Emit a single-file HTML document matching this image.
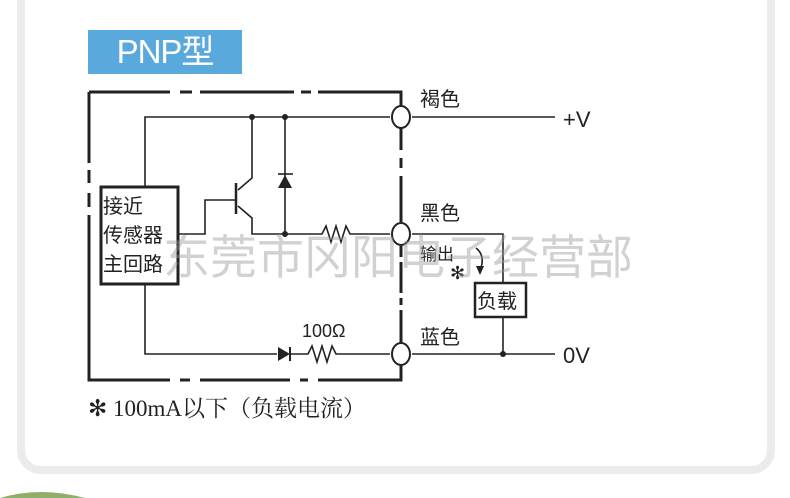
<!DOCTYPE html>
<html><head><meta charset="utf-8"><style>
body{margin:0;width:790px;height:498px;background:#fff;overflow:hidden;position:relative;font-family:"Liberation Sans","Noto Sans CJK SC",sans-serif}
.panel{position:absolute;left:17px;top:-30px;width:742px;height:488px;border:8px solid #ebebeb;border-radius:24px;background:#fff}
.title{position:absolute;left:88px;top:30px;width:154px;height:44px;background:#5aa9dc;color:#fff;font-size:33px;line-height:44px;text-align:center;letter-spacing:-1px}
</style></head><body>
<div class="panel"></div>
<div class="title">PNP型</div>
<svg width="790" height="498" style="position:absolute;left:0;top:0;overflow:hidden" font-family="Liberation Sans, Noto Sans CJK SC, sans-serif">
<g stroke="#222" stroke-width="3" fill="none">
<path d="M89 92H170M180 92H192M200 92H294M301 92H311M318 92H401V106"/>
<path d="M89 92V163M89 170V183M89 193V207M89 215V380H170M180 380H190M200 380H290M300 380H308M318 380H401V365"/>
<path d="M401 128V150M401 158V168M401 176V222M401 246V257M401 262V293M401 298V305M401 310V343"/>
<rect x="101" y="187" width="77" height="97"/>
<rect x="475" y="283" width="51" height="34" stroke-width="2.5"/>
</g>
<g stroke="#222" stroke-width="1.6" fill="none">
<path d="M145 187V117H390M412 117H555"/>
<path d="M252 117V178L238 190"/>
<path d="M178 234H205V200H236"/>
<path d="M236 183V214" stroke-width="2.5"/>
<path d="M238 206L252 218V234H322L326 226L331 242L336 226L341 242L346 226L350 234H390"/>
<path d="M285 117V234"/>
<path d="M412 234H503V283M503 317V354"/>
<path d="M145 284V354H277M290 354H308L312 346L317 362L322 346L327 362L332 346L336 354H390M412 354H555"/>
<path d="M278 174H293"/>
<path d="M476 248Q486 256 480 270"/>
</g>
<polygon points="285,175 278,188 292,188" fill="#222"/>
<polygon points="290,354 278,347 278,361" fill="#222"/>
<path d="M290 347V361" stroke="#222" stroke-width="2"/>
<polygon points="480,275 476,266 484,266" fill="#222"/>
<circle cx="252" cy="117" r="3" fill="#222"/><circle cx="285" cy="117" r="3" fill="#222"/>
<circle cx="285" cy="234" r="3" fill="#222"/><circle cx="503" cy="354" r="3" fill="#222"/>
<g fill="#fff" stroke="#222" stroke-width="2">
<ellipse cx="401" cy="117" rx="9" ry="11"/><ellipse cx="401" cy="234" rx="9" ry="11"/><ellipse cx="401" cy="354" rx="9" ry="11"/>
</g>
<g fill="#222" font-size="20">
<text x="103" y="213">接近</text><text x="103" y="242">传感器</text><text x="103" y="271">主回路</text>
<text x="420" y="106">褐色</text><text x="420" y="220">黑色</text><text x="420" y="344">蓝色</text>
<text x="477" y="308">负载</text>
<text x="563" y="127" font-size="22">+V</text><text x="563" y="363" font-size="22">0V</text>
<text x="302" y="337" font-size="18">100Ω</text>
<text x="420" y="260" font-size="17">输出</text>
<text x="450" y="279" font-size="18">✻</text>
<text x="88" y="416" font-size="23" font-family="Liberation Serif, Noto Serif CJK SC, serif">✻ 100mA以下（负载电流）</text>
</g>
<text x="163" y="274" font-size="47" fill="#999" fill-opacity="0.45">东莞市冈阳电子经营部</text>
<path d="M0 498Q40 486 85 498Z" fill="#8fae6a"/>
</svg>
</body></html>
